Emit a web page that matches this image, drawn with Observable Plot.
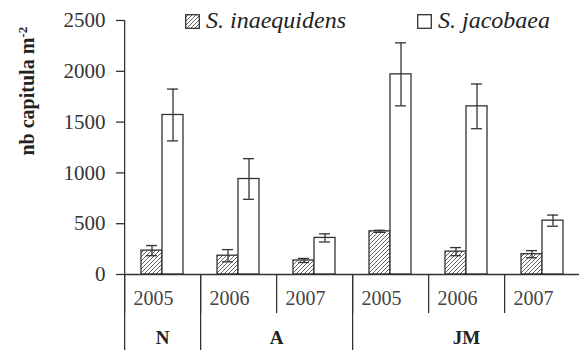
<!DOCTYPE html>
<html>
<head>
<meta charset="utf-8">
<script src="https://cdn.jsdelivr.net/npm/d3@7"></script>
<script src="https://cdn.jsdelivr.net/npm/@observablehq/plot@0.6"></script>
<style>
  html, body { margin: 0; padding: 0; background: white; }
  #wrap { position: relative; width: 579px; height: 352px; }
  #legend { position: absolute; top: 0; left: 0; width: 579px; height: 40px; pointer-events: none;
            font-family: "Liberation Serif", serif; font-style: italic; font-size: 24px; color: #222; }
  #legend .sw { position: absolute; }
  #legend .lab { position: absolute; line-height: 24px; white-space: nowrap; }
</style>
</head>
<body>
<div id="wrap">
  <div id="chart"></div>
  <div id="legend"></div>
</div>
<script>
// ---- data ----
const groups = ["N", "A", "A", "JM", "JM", "JM"];
const years = ["2005", "2006", "2007", "2005", "2006", "2007"];
const species = ["S. inaequidens", "S. jacobaea"];
const inaequidens = [235, 185, 138, 425, 225, 200];
const inaequidensErr = [50, 60, 20, 10, 40, 35];
const jacobaea = [1570, 940, 360, 1970, 1655, 530];
const jacobaeaErr = [255, 200, 40, 310, 220, 55];
const yTicks = [0, 500, 1000, 1500, 2000, 2500];
const yLabelMain = "nb capitula m";
const yLabelSup = "-2";
const groupNames = ["N", "A", "JM"];

// ---- derived table ----
const cats = groups.map((g, i) => g + " " + years[i]);
const yearOf = Object.fromEntries(cats.map((c, i) => [c, years[i]]));
const rows = [];
cats.forEach((c, i) => {
  rows.push({cat: c, species: species[0], value: inaequidens[i], err: inaequidensErr[i]});
  rows.push({cat: c, species: species[1], value: jacobaea[i], err: jacobaeaErr[i]});
});
const groupStarts = groupNames.map(g => cats[groups.indexOf(g)]);
const centredLabels = [{name: "N", cat: cats[0]}, {name: "JM", cat: cats[4]}];
const edgeLabels = [{name: "A", cat: cats[2]}];

// ---- layout ----
const width = 579, height = 352;
const marginLeft = 122, marginRight = -3, marginTop = 20, marginBottom = 78;
const frameW = width - marginLeft - marginRight;
const frameH = height - marginTop - marginBottom;
const step = frameW / cats.length;
const band = step / 3.5;
const edgeDx = -1.25 * band;
const ink = "#333";

const chart = Plot.plot({
  width, height, marginLeft, marginRight, marginTop, marginBottom,
  style: {fontFamily: "Liberation Serif, serif", fontSize: "20px", color: ink, background: "white", overflow: "visible"},
  fx: {domain: cats, padding: 0, axis: null},
  x: {domain: species, paddingInner: 0, paddingOuter: 0.75, axis: null},
  y: {domain: [0, 2500], axis: null},
  marks: [
    Plot.barY(rows.filter(d => d.species === species[0]), {fx: "cat", x: "species", y: "value", fill: "url(#hatch)", stroke: ink, strokeWidth: 1.3}),
    Plot.barY(rows.filter(d => d.species === species[1]), {fx: "cat", x: "species", y: "value", fill: "white", stroke: ink, strokeWidth: 1.3}),
    Plot.ruleX(rows, {fx: "cat", x: "species", y1: d => d.value - d.err, y2: d => d.value + d.err, stroke: ink, strokeWidth: 1.3}),
    Plot.tickY(rows, {fx: "cat", x: "species", y: d => d.value + d.err, insetLeft: 5, insetRight: 5, stroke: ink, strokeWidth: 1.3}),
    Plot.tickY(rows, {fx: "cat", x: "species", y: d => d.value - d.err, insetLeft: 5, insetRight: 5, stroke: ink, strokeWidth: 1.3}),
    Plot.ruleY([0], {stroke: ink, strokeWidth: 1.3}),
    Plot.ruleX([cats[0]], {fx: d => d, x: () => species[0], dx: edgeDx, stroke: ink, strokeWidth: 1.3}),
    Plot.ruleX(cats, {fx: d => d, x: () => species[0], dx: edgeDx, insetTop: frameH, insetBottom: -39, stroke: ink, strokeWidth: 1.3}),
    Plot.ruleX(groupStarts, {fx: d => d, x: () => species[0], dx: edgeDx, insetTop: frameH, insetBottom: -76, stroke: ink, strokeWidth: 1.3}),
    Plot.axisY({ticks: yTicks, tickFormat: d3.format("d"), tickSize: 8, tickPadding: 11, fontSize: 21, label: null, stroke: ink, strokeWidth: 1.3, style: {letterSpacing: "1px"}}),
    Plot.axisFx({anchor: "bottom", tickSize: 0, tickPadding: 16, tickFormat: d => yearOf[d], dx: -9, fontSize: 20, label: null, fill: "#444"}),
    Plot.text(centredLabels, {fx: "cat", text: "name", frameAnchor: "bottom", dy: 63, lineAnchor: "middle", fontWeight: "bold", fontSize: 19, fill: "#222"}),
    Plot.text(edgeLabels, {fx: "cat", text: "name", frameAnchor: "bottom-left", textAnchor: "middle", dy: 63, lineAnchor: "middle", fontWeight: "bold", fontSize: 19, fill: "#222"}),
    Plot.text([yLabelMain], {fx: () => cats[0], text: d => d, frameAnchor: "left", rotate: -90, dx: -97, dy: 8, fontWeight: "bold", fontSize: 20, fill: "#222"})
  ]
});

// superscript on the y label
d3.select(chart).selectAll("text").filter(function() { return this.textContent === yLabelMain; })
  .append("tspan").attr("dy", "-0.5em").attr("font-size", 13).text(yLabelSup);

// hatch pattern
const defs = d3.select(chart).insert("defs", ":first-child");
defs.append("pattern").attr("id", "hatch").attr("patternUnits", "userSpaceOnUse")
  .attr("width", 4).attr("height", 4)
  .call(p => p.append("rect").attr("width", 4).attr("height", 4).attr("fill", "white"))
  .call(p => p.append("path").attr("d", "M-1,1 l2,-2 M0,4 l4,-4 M3,5 l2,-2").attr("stroke", "#555").attr("stroke-width", 0.9));
document.getElementById("chart").appendChild(chart);

// legend
const legend = d3.select("#legend");
const items = [
  {name: species[0], x: 185, fill: "url(#hatch)"},
  {name: species[1], x: 417, fill: "white"}
];
items.forEach(it => {
  legend.append("svg").attr("class", "sw").style("left", it.x + "px").style("top", "14px")
    .attr("width", 15).attr("height", 15)
    .append("rect").attr("x", 0.7).attr("y", 0.7).attr("width", 13.6).attr("height", 13.6)
    .attr("fill", it.fill).attr("stroke", ink).attr("stroke-width", 1.3);
  legend.append("span").attr("class", "lab").style("left", (it.x + 21) + "px").style("top", "8px").text(it.name);
});
</script>
</body>
</html>
